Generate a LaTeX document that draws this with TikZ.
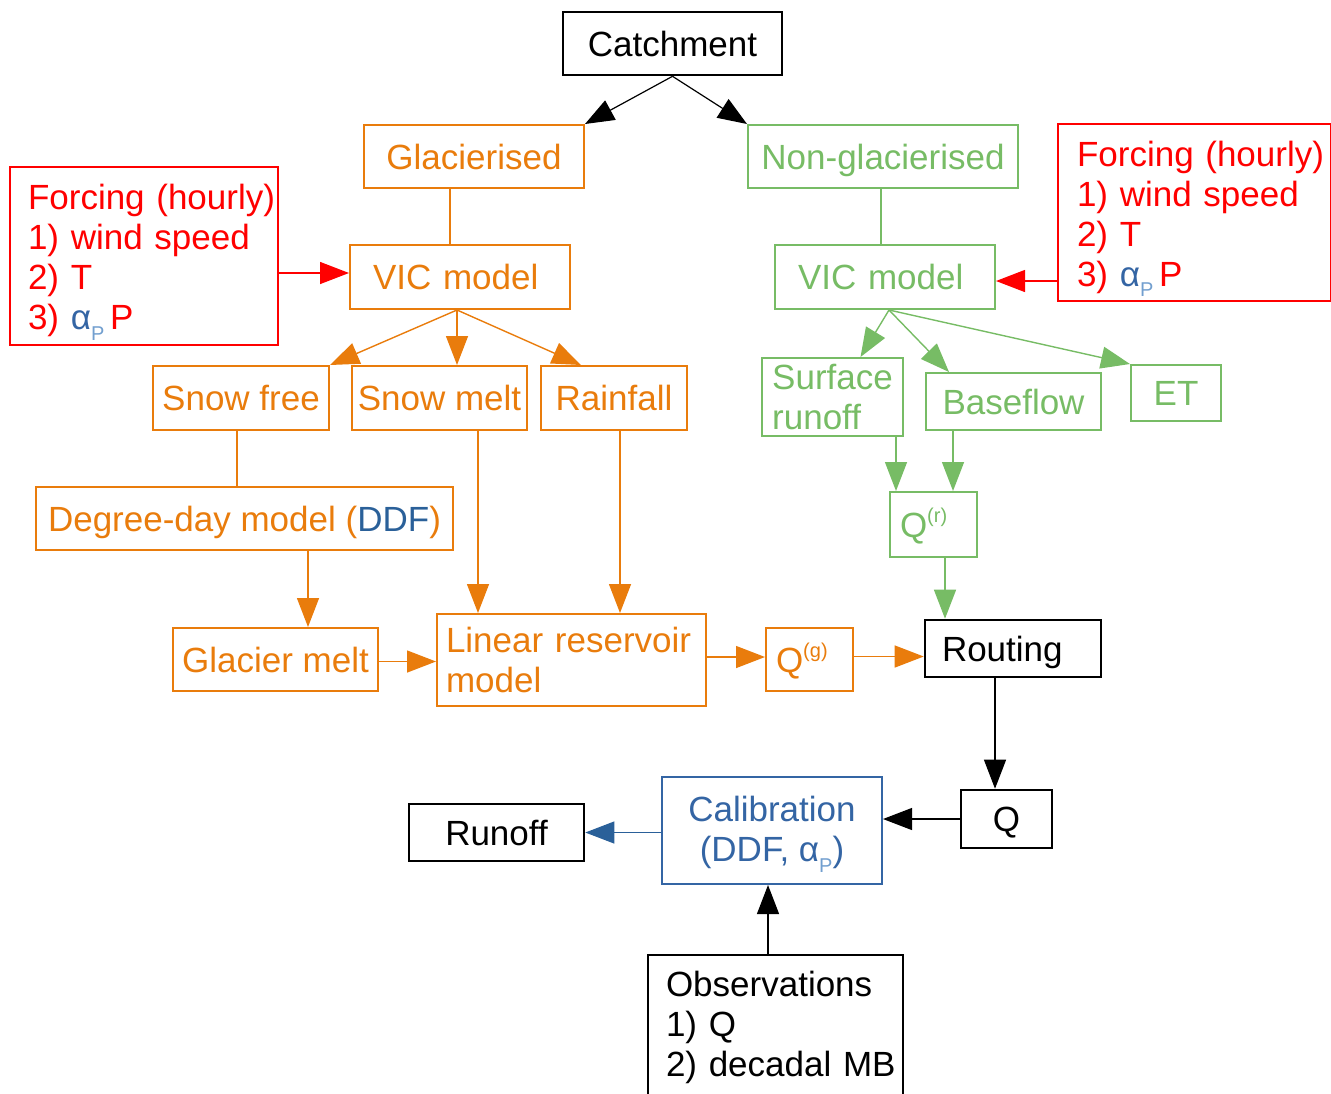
\documentclass[tikz,border=0pt]{standalone}
\usepackage{fontspec}
\setmainfont{Liberation Sans}
\usetikzlibrary{arrows.meta}
\definecolor{orng}{HTML}{E97C0C}
\definecolor{grn}{HTML}{77BC65}
\definecolor{dblue}{HTML}{2A6099}
\definecolor{mblue}{HTML}{3465A4}
\definecolor{lblue}{HTML}{729FCF}
\newcommand{\alphaP}{{\color{mblue}α\raisebox{-0.55ex}{\color{lblue}\fontsize{10}{10}\selectfont P}}}
\newcommand{\supq}[1]{\raisebox{0.8ex}{\fontsize{10}{10}\selectfont #1}}
\begin{document}
\begin{tikzpicture}[x=0.5pt,y=-0.5pt,
  boxbase/.style={draw, line width=1pt, inner sep=0pt, font=\fontsize{17.5}{20}\selectfont, align=center},
  one/.style={text height=16pt, text depth=3.5pt},
  obox/.style={boxbase, draw=orng, text=orng},
  gbox/.style={boxbase, draw=grn, text=grn},
  kbox/.style={boxbase, draw=black, line width=1.3pt, text=black},
  rbox/.style={boxbase, draw=red, text=red},
  bbox/.style={boxbase, draw=mblue, text=mblue},
  tipped/.style={-{Triangle[length=14.5pt,width=11pt]}},
  oline/.style={draw=orng, line width=0.7pt},
  gline/.style={draw=grn, line width=0.7pt},
  oarr/.style={tipped, oline},
  garr/.style={tipped, gline},
  rarr/.style={tipped, draw=red, line width=0.7pt},
  karr/.style={tipped, draw=black, line width=0.6pt},
  barr/.style={tipped, draw=dblue, line width=0.6pt}
]
\useasboundingbox (0,0) rectangle (1331,1093);

% top
\node[kbox, one, minimum width=109.5pt, minimum height=31.5pt] (catch) at (672.5,43.5) {Catchment};
\node[obox, one, minimum width=110pt, minimum height=31.5pt] (glac) at (474,156.5) {Glacierised};
\node[gbox, one, minimum width=135pt, minimum height=31.5pt] (nong) at (883,156.5) {Non-glacierised};

% forcing boxes
\node[rbox, align=left, text width=116pt, inner xsep=9pt, minimum height=89pt] (fl) at (144,256)
  {\rule{0pt}{19pt}Forcing~(hourly)\\1)~wind~speed\\2)~T\\3)~\alphaP\,P};
\node[rbox, align=left, text width=117.5pt, inner xsep=9.5pt, minimum height=88.5pt] (fr) at (1194.5,212.5)
  {\rule{0pt}{19pt}Forcing~(hourly)\\1)~wind~speed\\2)~T\\3)~\alphaP\,P};

% glacierised branch
\node[obox, one, align=left, text width=87pt, inner xsep=11.5pt, minimum height=32pt] (vicL) at (460,277) {VIC model};
\node[obox, one, minimum width=88pt, minimum height=32pt] (snowfree) at (241,398) {Snow free};
\node[obox, one, minimum width=87.5pt, minimum height=32pt] (snowmelt) at (439.5,398) {Snow melt};
\node[obox, one, minimum width=73pt, minimum height=32pt] (rain) at (614,398) {Rainfall};
\node[obox, one, minimum width=208.5pt, minimum height=31.5pt] (ddf) at (244.5,518.5) {Degree-day model ({\color{dblue}DDF})};
\node[obox, one, minimum width=102.5pt, minimum height=31.5pt] (gm) at (275.5,659.5) {Glacier melt};
\node[obox, align=left, text width=125.5pt, inner xsep=4.5pt, minimum height=46pt] (lin) at (571.5,660) {Linear~reservoir\\model};
\node[obox, one, align=left, text width=33.5pt, inner xsep=5pt, minimum height=31.5pt] (qg) at (809.5,659.5) {Q\supq{(g)}};

% non-glacierised branch
\node[gbox, one, align=left, text width=87pt, inner xsep=11.5pt, minimum height=32pt] (vicR) at (885,277) {VIC model};
\node[gbox, align=left, minimum width=70.5pt, minimum height=39pt] (surf) at (832.5,397) {Surface\\runoff};
\node[gbox, one, minimum width=87.5pt, minimum height=28.5pt] (basef) at (1013.5,401.5) {Baseflow};
\node[gbox, one, minimum width=45pt, minimum height=28pt] (et) at (1176,393) {ET};
\node[gbox, one, align=left, text width=33.5pt, inner xsep=5pt, minimum height=32.5pt] (qr) at (933.5,524.5) {Q\supq{(r)}};

% bottom
\node[kbox, one, align=left, text width=71pt, inner xsep=8.5pt, minimum height=28.5pt] (rout) at (1013,648.5) {Routing};
\node[kbox, one, minimum width=45.5pt, minimum height=29pt] (Q) at (1006.5,819) {Q};
\node[bbox, minimum width=110pt, minimum height=53.5pt] (cal) at (772,830.5) {\rule{0pt}{16.5pt}Calibration\\(DDF, \alphaP)};
\node[kbox, one, minimum width=87.5pt, minimum height=28.5pt] (runoff) at (496.5,832.5) {Runoff};
\node[kbox, align=left, text width=109.5pt, inner xsep=9pt, minimum height=72.5pt] (obs) at (775.5,1027.5) {Observations\\1)~Q\\2)~decadal~MB};

% connectors
\draw[karr] (catch.south) -- (glac.north east);
\draw[karr] (catch.south) -- (nong.north west);

\draw[oline] ([xshift=-5pt]vicL.north) -- ([xshift=-5pt]vicL.north |- glac.south);
\coordinate (vlw) at ([yshift=2pt]vicL.west);
\draw[rarr] (vlw -| fl.east) -- (vlw);
\coordinate (vl) at ([xshift=-1.5pt]vicL.south);
\draw[oarr] (vl) -- (snowfree.north east);
\draw[oarr] (vl) -- (vl |- snowmelt.north);
\draw[oarr] (vl) -- ([xshift=20.5pt]rain.north west);
\draw[oline] ([xshift=-2pt]snowfree.south) -- ([xshift=-2pt]snowfree.south |- ddf.north);
\coordinate (x1) at (308,0);
\draw[oarr] (ddf.south -| x1) -- (gm.north -| x1);
\coordinate (x2) at (478,0);
\draw[oarr] (snowmelt.south -| x2) -- (lin.north -| x2);
\coordinate (x3) at (620,0);
\draw[oarr] (rain.south -| x3) -- (lin.north -| x3);
\draw[oarr] ([yshift=-1pt]gm.east) -- ([yshift=-1pt]gm.east -| lin.west);
\draw[oarr] ([yshift=1.5pt]lin.east) -- ([yshift=1.5pt]lin.east -| qg.west);
\draw[oarr] ([yshift=1.5pt]qg.east) -- ([yshift=1.5pt]qg.east -| rout.west);

\draw[gline] ([xshift=-2pt]vicR.north) -- ([xshift=-2pt]vicR.north |- nong.south);
\coordinate (vre) at ([yshift=-2pt]vicR.east);
\draw[rarr] (vre -| fr.west) -- (vre);
\coordinate (vr) at ([xshift=2pt]vicR.south);
\draw[garr] (vr) -- ([xshift=14pt]surf.north);
\draw[garr] (vr) -- ([xshift=12pt]basef.north west);
\draw[garr] (vr) -- (et.north west);
\coordinate (x4) at (896,0);
\draw[garr] (surf.south -| x4) -- (qr.north -| x4);
\coordinate (x5) at (953,0);
\draw[garr] (basef.south -| x5) -- (qr.north -| x5);
\coordinate (x6) at (945,0);
\draw[garr] (qr.south -| x6) -- (rout.north -| x6);

\coordinate (x7) at (995,0);
\draw[karr] (rout.south -| x7) -- (Q.north -| x7);
\draw[karr] (Q.west) -- (Q.west -| cal.east);
\draw[barr] (cal.west |- runoff.east) -- (runoff.east);
\coordinate (x8) at (768,0);
\draw[karr] (obs.north -| x8) -- (cal.south -| x8);
\end{tikzpicture}
\end{document}
